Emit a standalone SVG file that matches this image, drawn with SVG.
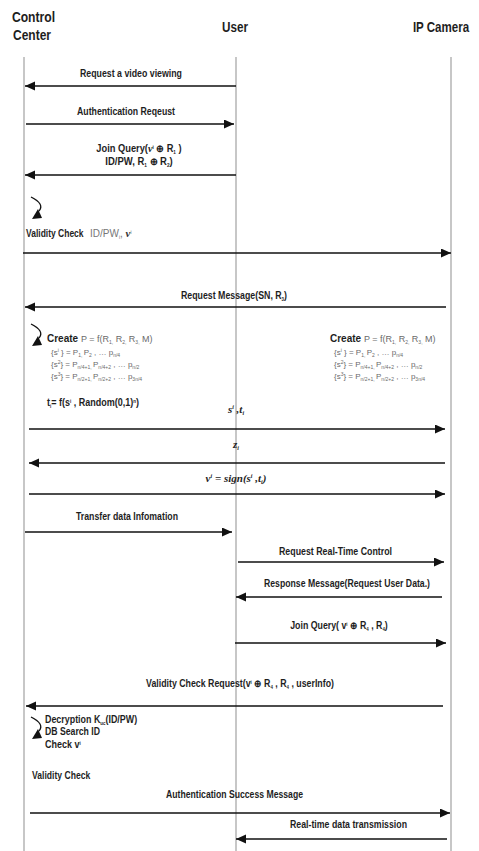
<svg xmlns="http://www.w3.org/2000/svg" width="479" height="851" viewBox="0 0 479 851">
<style>
text{font-family:"Liberation Sans",Arial,sans-serif;fill:#1e1e1e}
.ttl{font-size:15px;font-weight:bold}
.lbl{font-size:10px;font-weight:bold}
.g{font-weight:normal;fill:#777}
.f{font-size:8px;fill:#6a6a6a;font-weight:normal}
.m{font-family:"Liberation Serif","Times New Roman",serif;font-style:italic;font-weight:bold;font-size:11px}
.life{stroke:#b5b5b5;stroke-width:1.5}
.msg{stroke:#111;stroke-width:1.6;fill:none;marker-end:url(#ah)}
.self{stroke:#111;stroke-width:1.3;fill:none}
</style>
<defs>
<marker id="ah" markerUnits="userSpaceOnUse" markerWidth="11" markerHeight="10" refX="10" refY="4.5" orient="auto">
<path d="M0,0 L10,4.5 L0,9 z" fill="#111"/>
</marker>
</defs>
<rect width="479" height="851" fill="#fff"/>
<g id="control-center">
<text class="ttl" transform="translate(33.5,22) scale(0.81,1)" text-anchor="middle">Control</text>
<text class="ttl" transform="translate(32,40) scale(0.8,1)" text-anchor="middle">Center</text>
<line class="life" x1="24" y1="57" x2="24" y2="851"/>
</g>
<g id="user">
<text class="ttl" transform="translate(235,32) scale(0.78,1)" text-anchor="middle">User</text>
<line class="life" x1="236" y1="57" x2="236" y2="851"/>
</g>
<g id="ip-camera">
<text class="ttl" transform="translate(441,32) scale(0.77,1)" text-anchor="middle">IP Camera</text>
<line class="life" x1="451" y1="57" x2="451" y2="851"/>
</g>
<g id="connectors">
<text class="lbl" x="131" y="77" text-anchor="middle" textLength="102" lengthAdjust="spacingAndGlyphs">Request a video viewing</text>
<line class="msg" x1="236" y1="86" x2="25" y2="86"/>
<text class="lbl" x="126" y="115" text-anchor="middle" textLength="98" lengthAdjust="spacingAndGlyphs">Authentication Reqeust</text>
<line class="msg" x1="26" y1="124" x2="234" y2="124"/>
<text class="lbl" transform="translate(139,152) scale(0.93,1)" text-anchor="middle">Join Query(<tspan class="m" font-size="9">v</tspan><tspan font-size="5" dy="-3">i</tspan><tspan dy="3"> ⊕ R</tspan><tspan font-size="5" dy="2">1</tspan><tspan dy="-2"> )</tspan></text>
<text class="lbl" transform="translate(139,165) scale(0.95,1)" text-anchor="middle">ID/PW, R<tspan font-size="5" dy="2">1</tspan><tspan dy="-2"> ⊕ R</tspan><tspan font-size="5" dy="2">2</tspan><tspan dy="-2">)</tspan></text>
<line class="msg" x1="236" y1="175" x2="25" y2="175"/>
<path class="self" d="M31,197 Q45,204 39,211"/>
<polygon points="32,219 38,209 42,218" fill="#111"/>
<text class="lbl" transform="translate(26,237) scale(0.85,1)">Validity Check</text>
<text class="lbl g" x="90" y="237">ID/PW<tspan font-size="5" dy="2">i</tspan><tspan dy="-2">, </tspan><tspan class="m" font-size="9" fill="#333">v</tspan><tspan font-size="5" dy="-3">i</tspan></text>
<line class="msg" x1="23" y1="253" x2="451" y2="253"/>
<text class="lbl" transform="translate(234,299) scale(0.88,1)" text-anchor="middle">Request Message(SN, R<tspan font-size="5" dy="2">3</tspan><tspan dy="-2">)</tspan></text>
<line class="msg" x1="446" y1="307" x2="25" y2="307"/>
<path class="self" d="M31,324 Q45,331 39,338"/>
<polygon points="32,346 38,336 42,345" fill="#111"/>
<text x="236" y="413" text-anchor="middle" class="m">s<tspan font-size="6" dy="-4">i</tspan><tspan dy="4"> ,t</tspan><tspan font-size="6" dy="2">i</tspan></text>
<line class="msg" x1="29" y1="429" x2="445" y2="429"/>
<text x="236" y="448" text-anchor="middle" class="m">z<tspan font-size="6" dy="2">i</tspan></text>
<line class="msg" x1="445" y1="463" x2="29" y2="463"/>
<text x="236" y="482" text-anchor="middle" class="m">v<tspan font-size="6" dy="-4">i</tspan><tspan dy="4"> = sign(s</tspan><tspan font-size="6" dy="-4">i</tspan><tspan dy="4"> ,t</tspan><tspan font-size="6" dy="2">i</tspan><tspan dy="-2">)</tspan></text>
<line class="msg" x1="29" y1="494" x2="445" y2="494"/>
<text class="lbl" x="127" y="520" text-anchor="middle" textLength="102" lengthAdjust="spacingAndGlyphs">Transfer data Infomation</text>
<line class="msg" x1="25" y1="532" x2="232" y2="532"/>
<text class="lbl" x="335.5" y="555" text-anchor="middle" textLength="113" lengthAdjust="spacingAndGlyphs">Request Real-Time  Control</text>
<line class="msg" x1="238" y1="562" x2="444" y2="562"/>
<text class="lbl" x="347" y="587" text-anchor="middle" textLength="166" lengthAdjust="spacingAndGlyphs">Response Message(Request User Data.)</text>
<line class="msg" x1="442" y1="597" x2="236" y2="597"/>
<text class="lbl" transform="translate(339,629) scale(0.88,1)" text-anchor="middle">Join Query( v<tspan font-size="5" dy="-3">i</tspan><tspan dy="3"> ⊕ R</tspan><tspan font-size="5" dy="2">4</tspan><tspan dy="-2"> , R</tspan><tspan font-size="5" dy="2">4</tspan><tspan dy="-2">)</tspan></text>
<line class="msg" x1="235" y1="643" x2="446" y2="643"/>
<text class="lbl" transform="translate(240,687) scale(0.88,1)" text-anchor="middle">Validity Check Request(v<tspan font-size="5" dy="-3">i</tspan><tspan dy="3"> ⊕ R</tspan><tspan font-size="5" dy="2">4</tspan><tspan dy="-2"> , R</tspan><tspan font-size="5" dy="2">4</tspan><tspan dy="-2"> , userInfo)</tspan></text>
<line class="msg" x1="443" y1="706" x2="26" y2="706"/>
<path class="self" d="M31,717 Q45,724 39,731"/>
<polygon points="32,739 38,729 42,738" fill="#111"/>
<text class="lbl" x="234.5" y="798" text-anchor="middle" textLength="137" lengthAdjust="spacingAndGlyphs">Authentication Success Message</text>
<line class="msg" x1="30" y1="813" x2="450" y2="813"/>
<text class="lbl" x="348.5" y="828" text-anchor="middle" textLength="117" lengthAdjust="spacingAndGlyphs">Real-time  data transmission</text>
<line class="msg" x1="447" y1="839" x2="236" y2="839"/>
</g>
<g id="create-left">
<text class="lbl" x="47" y="342">Create <tspan font-weight="normal" fill="#6a6a6a" font-size="9">P = f(R</tspan><tspan font-weight="normal" fill="#6a6a6a" font-size="5" dy="2">1,</tspan><tspan font-weight="normal" fill="#6a6a6a" font-size="9" dy="-2"> R</tspan><tspan font-weight="normal" fill="#6a6a6a" font-size="5" dy="2">2,</tspan><tspan font-weight="normal" fill="#6a6a6a" font-size="9" dy="-2"> R</tspan><tspan font-weight="normal" fill="#6a6a6a" font-size="5" dy="2">3,</tspan><tspan font-weight="normal" fill="#6a6a6a" font-size="9" dy="-2"> M)</tspan></text>
<text class="f" x="51" y="355">{s<tspan font-size="5" dy="-3">i</tspan><tspan dy="3"> } = P</tspan><tspan font-size="5" dy="2">1, </tspan><tspan dy="-2">P</tspan><tspan font-size="5" dy="2">2</tspan><tspan dy="-2"> , … p</tspan><tspan font-size="5" dy="2">n/4</tspan></text>
<text class="f" x="51" y="367">{s<tspan font-size="5" dy="-3">2</tspan><tspan dy="3">} = P</tspan><tspan font-size="5" dy="2">n/4+1, </tspan><tspan dy="-2">P</tspan><tspan font-size="5" dy="2">n/4+2</tspan><tspan dy="-2"> , … p</tspan><tspan font-size="5" dy="2">n/2</tspan></text>
<text class="f" x="51" y="379">{s<tspan font-size="5" dy="-3">3</tspan><tspan dy="3">} = P</tspan><tspan font-size="5" dy="2">n/2+1, </tspan><tspan dy="-2">P</tspan><tspan font-size="5" dy="2">n/2+2</tspan><tspan dy="-2"> , … p</tspan><tspan font-size="5" dy="2">3n/4</tspan></text>
<text class="lbl" transform="translate(47,406) scale(0.9,1)">t<tspan font-size="5" dy="2">i</tspan><tspan dy="-2">= f(s</tspan><tspan font-size="5" dy="-3">i</tspan><tspan dy="3"> , Random(0,1)</tspan><tspan font-size="5" dy="-3">n</tspan><tspan dy="3">)</tspan></text>
</g>
<g id="create-right">
<text class="lbl" x="330" y="342">Create <tspan font-weight="normal" fill="#6a6a6a" font-size="9">P = f(R</tspan><tspan font-weight="normal" fill="#6a6a6a" font-size="5" dy="2">1,</tspan><tspan font-weight="normal" fill="#6a6a6a" font-size="9" dy="-2"> R</tspan><tspan font-weight="normal" fill="#6a6a6a" font-size="5" dy="2">2,</tspan><tspan font-weight="normal" fill="#6a6a6a" font-size="9" dy="-2"> R</tspan><tspan font-weight="normal" fill="#6a6a6a" font-size="5" dy="2">3,</tspan><tspan font-weight="normal" fill="#6a6a6a" font-size="9" dy="-2"> M)</tspan></text>
<text class="f" x="334" y="355">{s<tspan font-size="5" dy="-3">i</tspan><tspan dy="3"> } = P</tspan><tspan font-size="5" dy="2">1, </tspan><tspan dy="-2">P</tspan><tspan font-size="5" dy="2">2</tspan><tspan dy="-2"> , … p</tspan><tspan font-size="5" dy="2">n/4</tspan></text>
<text class="f" x="334" y="367">{s<tspan font-size="5" dy="-3">2</tspan><tspan dy="3">} = P</tspan><tspan font-size="5" dy="2">n/4+1, </tspan><tspan dy="-2">P</tspan><tspan font-size="5" dy="2">n/4+2</tspan><tspan dy="-2"> , … p</tspan><tspan font-size="5" dy="2">n/2</tspan></text>
<text class="f" x="334" y="379">{s<tspan font-size="5" dy="-3">3</tspan><tspan dy="3">} = P</tspan><tspan font-size="5" dy="2">n/2+1, </tspan><tspan dy="-2">P</tspan><tspan font-size="5" dy="2">n/2+2</tspan><tspan dy="-2"> , … p</tspan><tspan font-size="5" dy="2">3n/4</tspan></text>
</g>
<g id="decryption-note">
<text class="lbl" transform="translate(45,723) scale(0.89,1)">Decryption K<tspan font-size="5" dy="2">uc</tspan><tspan dy="-2">(ID/PW)</tspan></text>
<text class="lbl" x="45" y="735" textLength="55" lengthAdjust="spacingAndGlyphs">DB Search ID</text>
<text class="lbl" transform="translate(45,748) scale(0.9,1)">Check v<tspan font-size="5" dy="-3">i</tspan></text>
<text class="lbl" transform="translate(32,779) scale(0.86,1)">Validity Check</text>
</g>
</svg>
